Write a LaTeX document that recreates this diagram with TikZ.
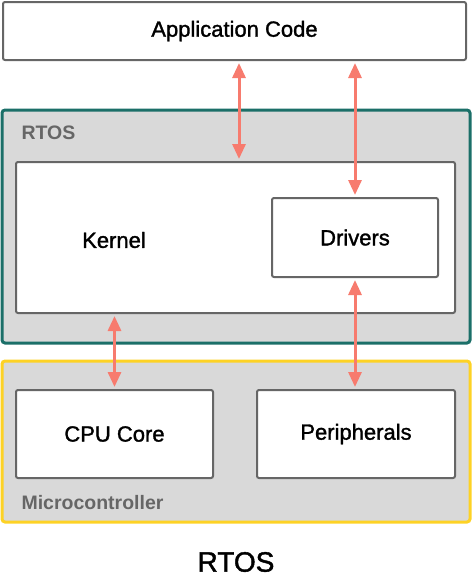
\documentclass[tikz,border=0pt]{standalone}
\usepackage{fontspec}
\setmainfont{Liberation Sans}
\newfontfamily\medfont[FakeBold=1.4]{Liberation Sans}
\usetikzlibrary{arrows.meta,calc}

\definecolor{boxgray}{HTML}{666666}
\definecolor{panelgray}{HTML}{D9D9D9}
\definecolor{rtosteal}{HTML}{1B6F68}
\definecolor{mcuyellow}{HTML}{FDD225}
\definecolor{linksalmon}{HTML}{F77B6E}

\begin{document}
\begin{tikzpicture}[x=1pt,y=-1pt,
    block/.style={draw=boxgray,line width=2pt,fill=white,rounded corners=2pt,
                  inner sep=0pt,font=\medfont\fontsize{22}{26}\selectfont},
    layer/.style={line width=3pt,fill=panelgray,rounded corners=3pt,inner sep=0pt},
    tag/.style={anchor=west,text=boxgray,font=\bfseries\fontsize{19.5}{23}\selectfont},
    link/.style={draw=linksalmon,line width=3pt,
                 {Triangle[length=15pt,width=13pt]}-{Triangle[length=15pt,width=13pt]},
                 shorten <=2pt,shorten >=2pt}]
\useasboundingbox (0,0) rectangle (472,587);

% outer layers
\node[layer,draw=rtosteal,minimum width=468pt,minimum height=233pt] (rtos) at (236,226.5) {};
\node[layer,draw=mcuyellow,minimum width=468pt,minimum height=161pt] (mcu) at (236,441.5) {};
\node[tag] (rtostag) at (18,133) {RTOS};
\node[tag] (mcutag) at (18,503) {Microcontroller};

% blocks
\node[block,minimum width=463pt,minimum height=58pt] (app) at (234.5,31) {Application Code};
\node[block,minimum width=439pt,minimum height=151pt] (kernel) at (235.5,237.5) {};
\node[font=\medfont\fontsize{22}{26}\selectfont] (kerneltxt) at (114,240) {Kernel};
\node[block,minimum width=166pt,minimum height=79pt] (drv) at (355,237.5) {Drivers};
\node[block,minimum width=197pt,minimum height=88pt] (cpu) at (114.5,434) {CPU Core};
\node[block,minimum width=198pt,minimum height=88pt] (periph) at (356,434) {Peripherals};

\node[font=\medfont\fontsize{28}{32}\selectfont] (title) at (236,562) {RTOS};

% links
\draw[link] (app.south -| 239,0) -- (kernel.north -| 239,0);
\draw[link] (app.south -| drv.north) -- (drv.north);
\draw[link] (kernel.south -| cpu.north) -- (cpu.north);
\draw[link] (drv.south) -- (drv.south |- periph.north);
\end{tikzpicture}
\end{document}
